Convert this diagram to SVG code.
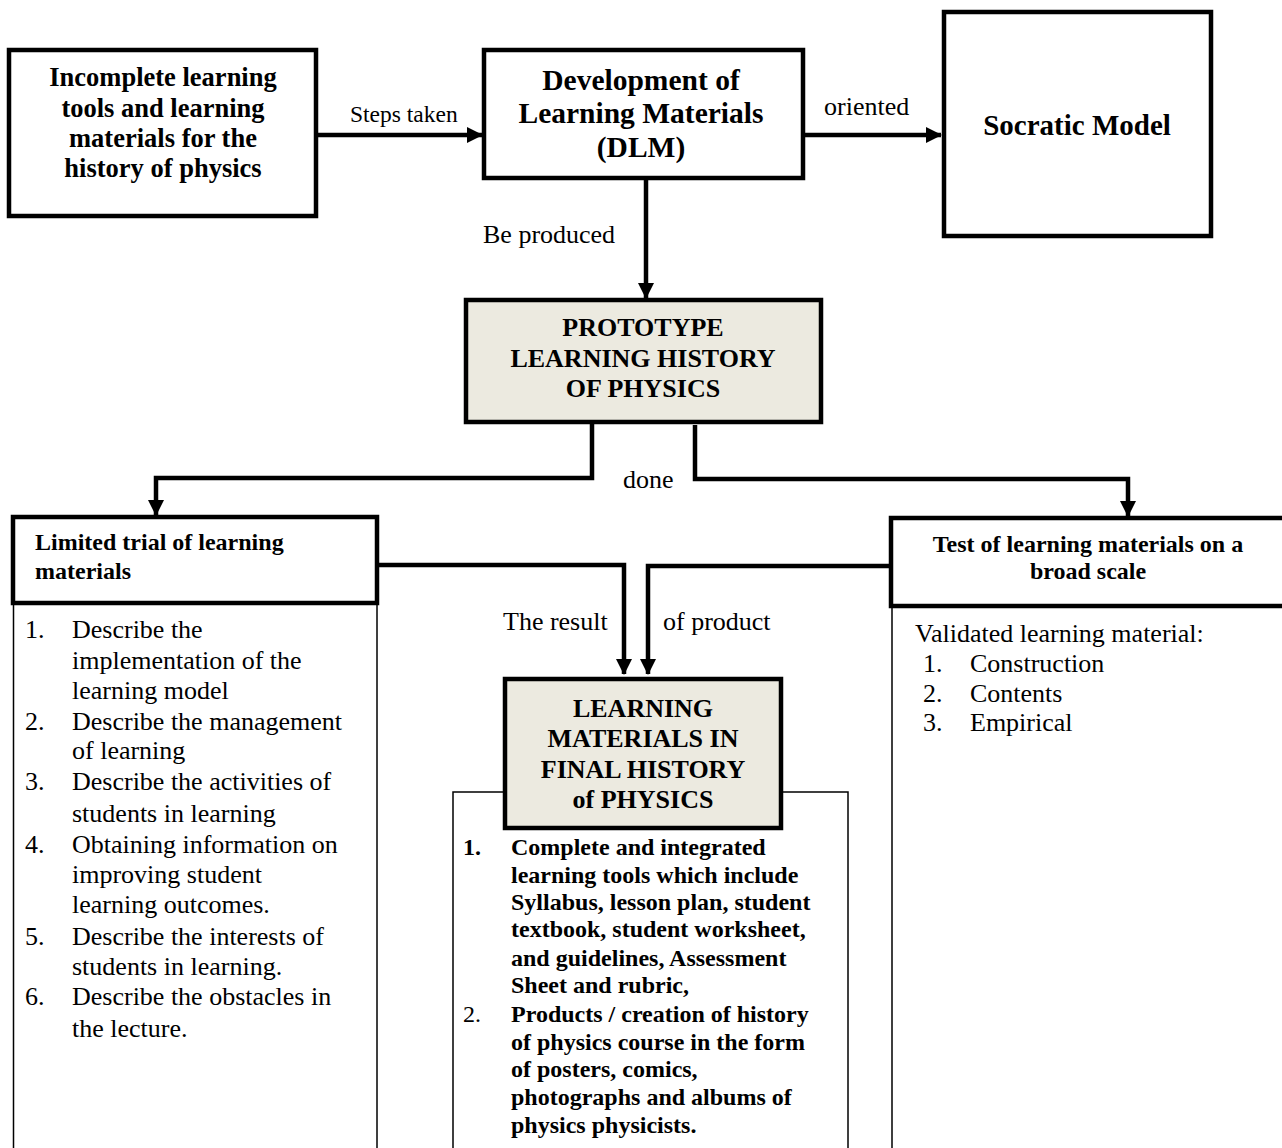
<svg xmlns="http://www.w3.org/2000/svg" width="1282" height="1148" viewBox="0 0 1282 1148">
<style>
.box{fill:#fff;stroke:#000;stroke-width:4.5}
.shade{fill:#ECEAE0;stroke:#000;stroke-width:4.5}
.thin{fill:#fff;stroke:#000;stroke-width:1.5}
.b{font-family:"Liberation Serif",serif;font-weight:bold;fill:#000}
.r{font-family:"Liberation Serif",serif;fill:#000}
.c{text-anchor:middle}
.con{fill:none;stroke:#000;stroke-width:4.5}
</style>
<defs>
<marker id="ah" markerUnits="userSpaceOnUse" markerWidth="16" markerHeight="18" viewBox="0 0 16 18" refX="15" refY="9" orient="auto">
<path d="M0,1 L16,9 L0,17 Z" fill="#000"/>
</marker>
</defs>

<g id="n-incomplete">
<rect class="box" x="9" y="50" width="307" height="166"/>
<text class="b c" font-size="26.5" x="163"><tspan x="163" y="86">Incomplete learning</tspan><tspan x="163" y="117">tools and learning</tspan><tspan x="163" y="147">materials for the</tspan><tspan x="163" y="177">history of physics</tspan></text>
</g>

<g id="n-dlm">
<rect class="box" x="484" y="50" width="319" height="128"/>
<text class="b c" font-size="29.5"><tspan x="641" y="90">Development of</tspan><tspan x="641" y="123">Learning Materials</tspan><tspan x="641" y="157">(DLM)</tspan></text>
</g>

<g id="n-socratic">
<rect class="box" x="944" y="12" width="267" height="224"/>
<text class="b c" font-size="29" x="1077" y="135">Socratic Model</text>
</g>

<g id="n-prototype">
<rect class="shade" x="466" y="300" width="355" height="122"/>
<text class="b c" font-size="26"><tspan x="643" y="336">PROTOTYPE</tspan><tspan x="643" y="367">LEARNING HISTORY</tspan><tspan x="643" y="397">OF PHYSICS</tspan></text>
</g>

<g id="n-limited">
<rect class="thin" x="13.5" y="604" width="363.5" height="560"/>
<rect class="box" x="13" y="517" width="364" height="86"/>
<text class="b" font-size="24"><tspan x="35" y="550">Limited trial of learning</tspan><tspan x="35" y="579">materials</tspan></text>
<text class="r" font-size="26">
<tspan x="25" y="638">1.</tspan><tspan x="72" y="638">Describe the</tspan>
<tspan x="72" y="669">implementation of the</tspan>
<tspan x="72" y="699">learning model</tspan>
<tspan x="25" y="730">2.</tspan><tspan x="72" y="730">Describe the management</tspan>
<tspan x="72" y="759">of learning</tspan>
<tspan x="25" y="790">3.</tspan><tspan x="72" y="790">Describe the activities of</tspan>
<tspan x="72" y="822">students in learning</tspan>
<tspan x="25" y="853">4.</tspan><tspan x="72" y="853">Obtaining information on</tspan>
<tspan x="72" y="883">improving student</tspan>
<tspan x="72" y="913">learning outcomes.</tspan>
<tspan x="25" y="945">5.</tspan><tspan x="72" y="945">Describe the interests of</tspan>
<tspan x="72" y="975">students in learning.</tspan>
<tspan x="25" y="1005">6.</tspan><tspan x="72" y="1005">Describe the obstacles in</tspan>
<tspan x="72" y="1037">the lecture.</tspan>
</text>
</g>

<g id="n-test">
<rect class="thin" x="892" y="607" width="400" height="560"/>
<rect class="box" x="891" y="518" width="395" height="88"/>
<text class="b c" font-size="24"><tspan x="1088" y="552">Test of learning materials on a</tspan><tspan x="1088" y="579">broad scale</tspan></text>
<text class="r" font-size="26">
<tspan x="915" y="642">Validated learning material:</tspan>
<tspan x="923" y="672">1.</tspan><tspan x="970" y="672">Construction</tspan>
<tspan x="923" y="702">2.</tspan><tspan x="970" y="702">Contents</tspan>
<tspan x="923" y="731">3.</tspan><tspan x="970" y="731">Empirical</tspan>
</text>
</g>

<g id="n-final">
<rect class="thin" x="453" y="792" width="395" height="372"/>
<rect class="shade" x="505" y="679" width="276" height="149" stroke-width="8"/>
<text class="b c" font-size="26"><tspan x="643" y="717">LEARNING</tspan><tspan x="643" y="747">MATERIALS IN</tspan><tspan x="643" y="778">FINAL HISTORY</tspan><tspan x="643" y="808">of PHYSICS</tspan></text>
<text class="b" font-size="24">
<tspan x="463" y="855">1.</tspan><tspan x="511" y="855">Complete and integrated</tspan>
<tspan x="511" y="883">learning tools which include</tspan>
<tspan x="511" y="910">Syllabus, lesson plan, student</tspan>
<tspan x="511" y="937">textbook, student worksheet,</tspan>
<tspan x="511" y="966">and guidelines, Assessment</tspan>
<tspan x="511" y="993">Sheet and rubric,</tspan>
<tspan x="511" y="1022">Products / creation of history</tspan>
<tspan x="511" y="1050">of physics course in the form</tspan>
<tspan x="511" y="1077">of posters, comics,</tspan>
<tspan x="511" y="1105">photographs and albums of</tspan>
<tspan x="511" y="1133">physics physicists.</tspan>
</text>
<text class="r" font-size="24" x="463" y="1022">2.</text>
</g>

<g id="connectors">
<path class="con" d="M318,135 H482" marker-end="url(#ah)"/>
<path class="con" d="M805,135 H941" marker-end="url(#ah)"/>
<path class="con" d="M646,178 V298" marker-end="url(#ah)"/>
<path class="con" d="M592,423 V478 H156 V515" marker-end="url(#ah)"/>
<path class="con" d="M695,425 V479 H1128 V516" marker-end="url(#ah)"/>
<path class="con" d="M378,565 H624 V674" marker-end="url(#ah)"/>
<path class="con" d="M891,566 H648 V674" marker-end="url(#ah)"/>
<text class="r" font-size="23.5" x="350" y="122">Steps taken</text>
<text class="r" font-size="26" x="824" y="115">oriented</text>
<text class="r" font-size="26" x="483" y="243">Be produced</text>
<text class="r" font-size="26" x="623" y="488">done</text>
<text class="r" font-size="26" x="503" y="630">The result</text>
<text class="r" font-size="26" x="663" y="630">of product</text>
</g>
</svg>
